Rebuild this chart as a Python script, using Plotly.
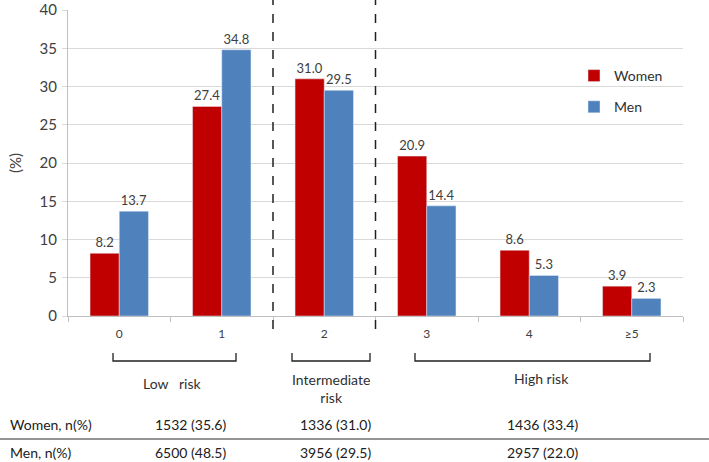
import plotly.graph_objects as go

categories = ["0", "1", "2", "3", "4", "≥5"]
women = [8.2, 27.4, 31.0, 20.9, 8.6, 3.9]
men = [13.7, 34.8, 29.5, 14.4, 5.3, 2.3]
y_ticks = [0, 5, 10, 15, 20, 25, 30, 35, 40]

risk_groups = ["Low   risk", "Intermediate<br>risk", "High risk"]
women_n = [1532, 1336, 1436]
women_pct = [35.6, 31.0, 33.4]
men_n = [6500, 3956, 2957]
men_pct = [48.5, 29.5, 22.0]

RED = "#C00000"
BLUE = "#4F81BD"
FONT = "Lato"
TXT = "#404040"

fig = go.Figure()
fig.add_trace(go.Bar(x=categories, y=women, name="Women", marker_color=RED,
                     text=[f"{v:.1f}" for v in women], textposition="outside",
                     textfont=dict(family=FONT, size=13, color=TXT),
                     cliponaxis=False, legendgroup="w"))
fig.add_trace(go.Bar(x=categories, y=men, name="Men", marker_color=BLUE,
                     text=[f"{v:.1f}" for v in men], textposition="outside",
                     textfont=dict(family=FONT, size=13, color=TXT),
                     cliponaxis=False, legendgroup="m"))

W, H = 709, 462
L, R, T, B = 68, 26, 10, 146
pw, ph = W - L - R, H - T - B

def px(x):
    return (x - L) / pw

def py(y):
    return (H - B - y) / ph

shapes = []
# dashed separators between risk groups
for xb in [1.5, 2.5]:
    shapes.append(dict(type="line", xref="x", yref="paper", x0=xb, x1=xb,
                       y0=py(329), y1=py(0), line=dict(color="#202020", width=1.5, dash="dash")))
# brackets
brackets = [(113, 236), (292, 370), (415, 650)]
for x0, x1 in brackets:
    shapes.append(dict(type="path", xref="paper", yref="paper",
                       path=f"M {px(x0)} {py(353)} L {px(x0)} {py(361)} L {px(x1)} {py(361)} L {px(x1)} {py(353)}",
                       line=dict(color="#202020", width=1.3)))
# table separator line
shapes.append(dict(type="line", xref="paper", yref="paper", x0=px(0), x1=px(709),
                   y0=py(439), y1=py(439), line=dict(color="#707070", width=1.5)))

annotations = []
label_centers = [(172, 383), (331, 388), (541, 378)]
for name, (cx, cy) in zip(risk_groups, label_centers):
    annotations.append(dict(text=name, xref="paper", yref="paper", x=px(cx), y=py(cy),
                            showarrow=False, xanchor="center", yanchor="middle",
                            font=dict(family=FONT, size=14, color="#303030")))

col_centers = [190, 335, 542]
rows = [("Women, n(%)", women_n, women_pct, 424), ("Men, n(%)", men_n, men_pct, 452)]
for lab, ns, ps, yy in rows:
    annotations.append(dict(text=lab, xref="paper", yref="paper", x=px(8), y=py(yy),
                            showarrow=False, xanchor="left", yanchor="middle",
                            font=dict(family=FONT, size=14, color="#202020")))
    for n, p, cx in zip(ns, ps, col_centers):
        annotations.append(dict(text=f"{n} ({p:.1f})", xref="paper", yref="paper", x=px(cx), y=py(yy),
                                showarrow=False, xanchor="center", yanchor="middle",
                                font=dict(family=FONT, size=14, color="#202020")))

fig.update_layout(
    width=W, height=H,
    margin=dict(l=L, r=R, t=T, b=B, autoexpand=False),
    paper_bgcolor="white", plot_bgcolor="white",
    barmode="group", bargap=0.43, bargroupgap=0,
    font=dict(family=FONT, color=TXT),
    legend=dict(x=px(574), y=py(60), xanchor="left", yanchor="top",
                font=dict(family=FONT, size=14, color="#303030"),
                tracegroupgap=10, bgcolor="rgba(0,0,0,0)", itemwidth=30),
    shapes=shapes, annotations=annotations,
    xaxis=dict(showline=True, linecolor="#bfbfbf", linewidth=1, ticks="outside",
               tickson="boundaries", ticklen=5, tickcolor="#bfbfbf", automargin=False,
               ticklabelstandoff=7,
               tickfont=dict(family=FONT, size=12, color=TXT), showgrid=False),
    yaxis=dict(range=[0, 40], tickvals=y_ticks, showline=True, linecolor="#bfbfbf",
               gridcolor="#d9d9d9", ticks="outside", ticklen=5, tickcolor="#d9d9d9",
               automargin=False, ticklabelstandoff=2,
               tickfont=dict(family=FONT, size=15, color=TXT), zeroline=False,
               title=dict(text="(%)", font=dict(family=FONT, size=15, color=TXT), standoff=14)),
)

fig.write_html("out.html", config={"displayModeBar": False},
               post_script="document.body.style.margin='0';document.body.style.padding='0';document.body.style.overflow='hidden';")
